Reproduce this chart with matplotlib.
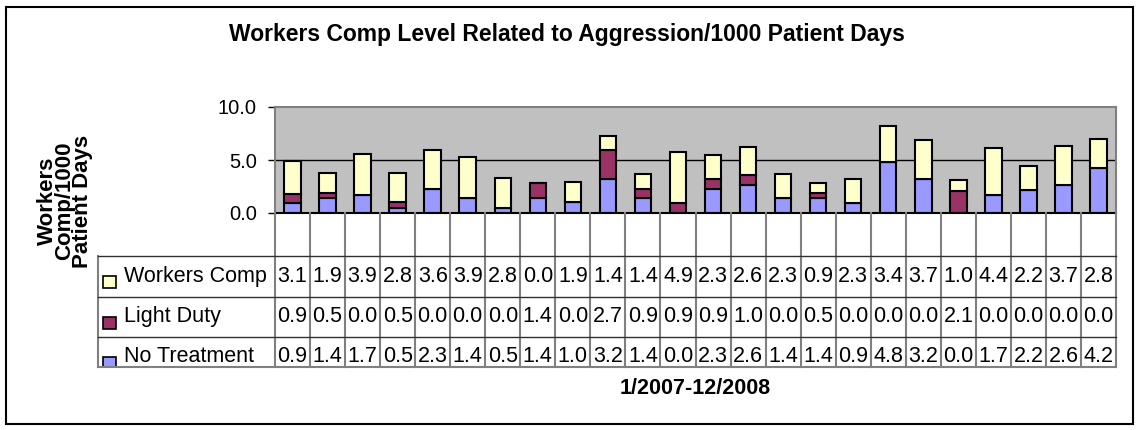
import numpy as np
import matplotlib
matplotlib.use("Agg")
import matplotlib.pyplot as plt
from matplotlib.patches import Rectangle

plt.rcParams['font.family'] = ['Liberation Sans', 'DejaVu Sans']

# data (24 months, 1/2007 - 12/2008)
series_names = ["Workers Comp", "Light Duty", "No Treatment"]
workers_comp = [3.1, 1.9, 3.9, 2.8, 3.6, 3.9, 2.8, 0.0, 1.9, 1.4, 1.4, 4.9,
                2.3, 2.6, 2.3, 0.9, 2.3, 3.4, 3.7, 1.0, 4.4, 2.2, 3.7, 2.8]
light_duty = [0.9, 0.5, 0.0, 0.5, 0.0, 0.0, 0.0, 1.4, 0.0, 2.7, 0.9, 0.9,
              0.9, 1.0, 0.0, 0.5, 0.0, 0.0, 0.0, 2.1, 0.0, 0.0, 0.0, 0.0]
no_treatment = [0.9, 1.4, 1.7, 0.5, 2.3, 1.4, 0.5, 1.4, 1.0, 3.2, 1.4, 0.0,
                2.3, 2.6, 1.4, 1.4, 0.9, 4.8, 3.2, 0.0, 1.7, 2.2, 2.6, 4.2]
y_ticks = [0.0, 5.0, 10.0]

colors = {"Workers Comp": "#FFFFCC", "Light Duty": "#993366", "No Treatment": "#9999FF"}

W, H = 1137, 430
fig = plt.figure(figsize=(W / 100, H / 100), dpi=100)

# pixel layout
plot_l, plot_r, plot_t, plot_b = 275, 1116, 107, 213
tab_l, tab_b = 98, 367
row_lines = [256, 297, 337]
row_centers = [277, 317, 357]

def fbox(l, t, r, b):
    return [l / W, 1 - b / H, (r - l) / W, (b - t) / H]

n = len(workers_comp)
x = np.arange(n) + 0.5

# --- bar chart ---
ax = fig.add_axes(fbox(plot_l, plot_t, plot_r, plot_b))
ax.set_facecolor("#C0C0C0")
nt = np.array(no_treatment)
ld = np.array(light_duty)
wc = np.array(workers_comp)
bw = 0.47
ax.bar(x, nt, bw, color=colors["No Treatment"], edgecolor="black", linewidth=1.5, zorder=3)
ax.bar(x, ld, bw, bottom=nt, color=colors["Light Duty"], edgecolor="black", linewidth=1.5, zorder=3)
ax.bar(x, wc, bw, bottom=nt + ld, color=colors["Workers Comp"], edgecolor="black", linewidth=1.5, zorder=3)
ax.set_xlim(0, n)
ax.set_ylim(0, 10)
ax.set_yticks(y_ticks)
ax.set_yticklabels([f"{v:.1f}" for v in y_ticks], fontsize=14.5)
ax.tick_params(axis="y", length=5, width=1, pad=8, color="black")
ax.set_xticks([])
ax.axhline(5, color="black", lw=1, zorder=1)
for s in ["top", "right", "left"]:
    ax.spines[s].set_color("#808080")
    ax.spines[s].set_linewidth(1.5)
ax.spines["bottom"].set_color("black")
ax.spines["bottom"].set_linewidth(1.5)
ax.spines["bottom"].set_zorder(4)

# --- data table below ---
cw = (plot_r - plot_l) / n
label_w = (plot_l - tab_l) / cw
tab = fig.add_axes(fbox(tab_l, plot_b, plot_r, tab_b))
tab.set_xlim(-label_w, n)
tab.set_ylim(tab_b, plot_b)
tab.axis("off")

for i in range(n + 1):
    tab.plot([i, i], [plot_b, tab_b], color="#808080", lw=1.5, clip_on=False)
tab.plot([-label_w, -label_w], [row_lines[0], tab_b], color="#808080", lw=1.5, clip_on=False)
for yl in row_lines:
    tab.plot([-label_w, n], [yl, yl], color="#303030", lw=1, clip_on=False)
tab.plot([-label_w, n], [tab_b, tab_b], color="#808080", lw=1.5, clip_on=False)

rows = [workers_comp, light_duty, no_treatment]
for name, vals, yc, yt in zip(series_names, rows, row_centers, row_lines):
    tab.add_patch(Rectangle((-label_w + 5 / cw, yt + 20), 13 / cw, 12,
                            facecolor=colors[name], edgecolor="black", lw=1.2, clip_on=True))
    tab.text(-label_w + 26 / cw, yc, name, fontsize=15.5, ha="left", va="center", clip_on=True)
    for i, v in enumerate(vals):
        tab.text(i + 0.5, yc, f"{v:.1f}", fontsize=15.5, ha="center", va="center", clip_on=True)

# --- text ---
fig.text(567 / W, 1 - 35 / H, "Workers Comp Level Related to Aggression/1000 Patient Days",
         fontsize=16.5, fontweight="bold", ha="center", va="center")
fig.text((plot_l + plot_r) / 2 / W, 1 - 389 / H, "1/2007-12/2008",
         fontsize=15.5, fontweight="bold", ha="center", va="center")
fig.text(65 / W, 1 - 201 / H, "Workers\nComp/1000\nPatient Days", fontsize=16,
         fontweight="bold", ha="center", va="center", rotation=90, linespacing=0.8)

# chart frame
fig.add_artist(Rectangle((6 / W, 1 - 424 / H), (1133 - 6) / W, (424 - 7) / H,
                         transform=fig.transFigure, fill=False, edgecolor="black", lw=1.5))

fig.savefig("out.png", dpi=100)
